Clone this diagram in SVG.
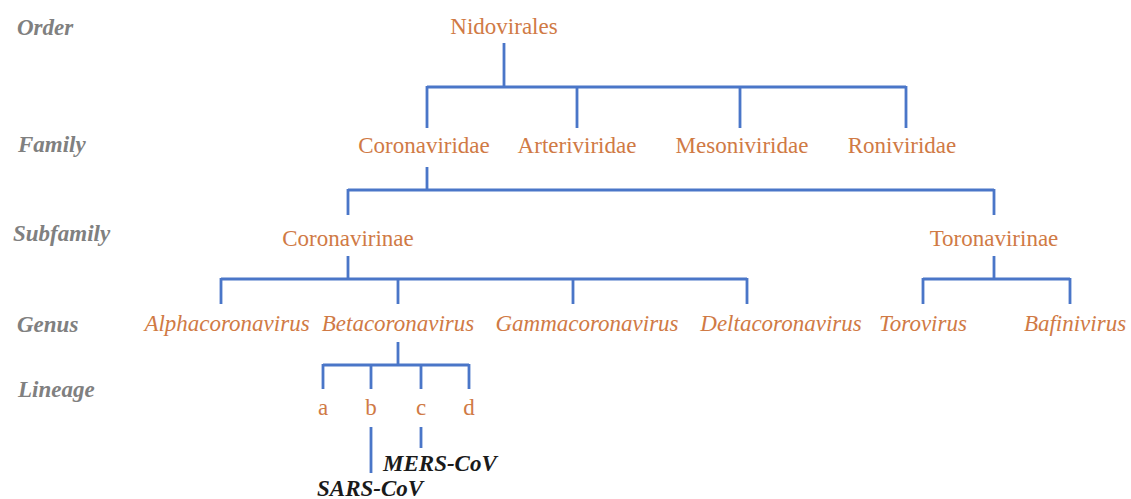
<svg xmlns="http://www.w3.org/2000/svg" width="1131" height="499" viewBox="0 0 1131 499">
<style>
text{font-family:'Liberation Serif','Times New Roman',Tinos,'DejaVu Serif','Noto Serif',serif}
.rank{font-size:23px;font-weight:bold;font-style:italic;fill:#808080}
.t{font-size:23px;fill:#d07a45;text-anchor:middle}
.i{font-style:italic}
.v{font-size:23px;font-weight:bold;font-style:italic;fill:#1a1a1a}
.c{fill:none;stroke:#4a76c8;stroke-width:2.8}
</style>
<rect width="1131" height="499" fill="#ffffff"/>
<g id="ranks">
<text class="rank" x="17" y="35">Order</text>
<text class="rank" x="18" y="152">Family</text>
<text class="rank" x="13" y="241">Subfamily</text>
<text class="rank" x="17" y="332">Genus</text>
<text class="rank" x="18" y="397">Lineage</text>
</g>
<g id="connectors">
<path class="c" d="M504 43V87M427 87H906M427 86V128M577 86V128M740 86V128M906 86V128"/>
<path class="c" d="M427 167V190M348 190H994M348 189V215M994 189V215"/>
<path class="c" d="M348 256V279M221 279H747M221 278V304M398 278V304M573 278V304M747 278V304"/>
<path class="c" d="M994 256V279M923 279H1070M923 278V304M1070 278V304"/>
<path class="c" d="M398 342V365M323 365H469M323 364V389M371 364V389M421 364V389M469 364V389"/>
<path class="c" d="M371 427V473M421 427V448"/>
</g>
<g id="n-nidovirales"><text class="t" x="504" y="34">Nidovirales</text></g>
<g id="n-coronaviridae"><text class="t" x="424" y="153">Coronaviridae</text></g>
<g id="n-arteriviridae"><text class="t" x="577" y="153">Arteriviridae</text></g>
<g id="n-mesoniviridae"><text class="t" x="742" y="153">Mesoniviridae</text></g>
<g id="n-roniviridae"><text class="t" x="902" y="153">Roniviridae</text></g>
<g id="n-coronavirinae"><text class="t" x="348" y="246">Coronavirinae</text></g>
<g id="n-toronavirinae"><text class="t" x="994" y="246">Toronavirinae</text></g>
<g id="n-alpha"><text class="t i" x="227" y="331">Alphacoronavirus</text></g>
<g id="n-beta"><text class="t i" x="398" y="331">Betacoronavirus</text></g>
<g id="n-gamma"><text class="t i" x="587" y="331">Gammacoronavirus</text></g>
<g id="n-delta"><text class="t i" x="781" y="331">Deltacoronavirus</text></g>
<g id="n-torovirus"><text class="t i" x="923" y="331">Torovirus</text></g>
<g id="n-bafinivirus"><text class="t i" x="1075" y="331">Bafinivirus</text></g>
<g id="n-a"><text class="t" x="323" y="415">a</text></g>
<g id="n-b"><text class="t" x="371" y="415">b</text></g>
<g id="n-c"><text class="t" x="421" y="415">c</text></g>
<g id="n-d"><text class="t" x="469" y="415">d</text></g>
<g id="n-mers"><text class="v" x="383" y="471">MERS-CoV</text></g>
<g id="n-sars"><text class="v" x="317" y="496">SARS-CoV</text></g>
</svg>
